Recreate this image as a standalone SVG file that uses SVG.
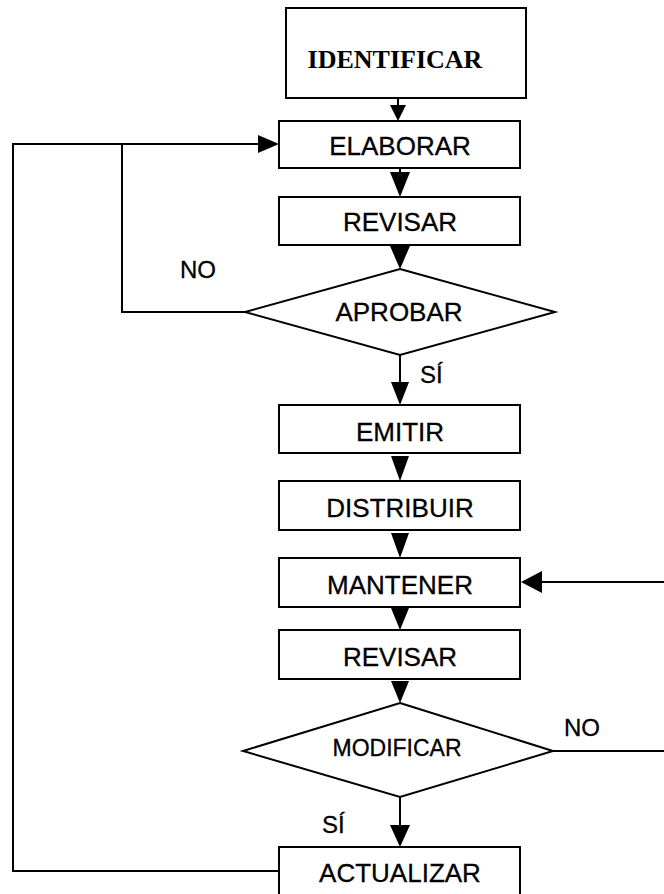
<svg xmlns="http://www.w3.org/2000/svg" width="664" height="894" viewBox="0 0 664 894">
<style>
.box{fill:#fff;stroke:#000;stroke-width:2}
.t{font-family:"Liberation Sans",Arial,sans-serif;font-size:26px;fill:#000;text-anchor:middle;stroke:#000;stroke-width:0.3}
.lbl{font-family:"Liberation Sans",Arial,sans-serif;font-size:24px;fill:#000;stroke:#000;stroke-width:0.3}
.ln{fill:none;stroke:#000;stroke-width:2}
.ah{fill:#000;stroke:none}
</style>
<rect width="664" height="894" fill="#fff"/>
<g id="connectors">
  <!-- IDENTIFICAR -> ELABORAR -->
  <line class="ln" x1="398" y1="88" x2="398" y2="106" stroke-width="1.5"/>
  <polygon class="ah" points="390,105 406,105 398,121"/>
  <!-- ELABORAR -> REVISAR -->
  <line class="ln" x1="400" y1="168" x2="400" y2="174"/>
  <polygon class="ah" points="390,172 410,172 400,197"/>
  <!-- REVISAR -> APROBAR -->
  <polygon class="ah" points="390,246 410,246 400,269"/>
  <!-- APROBAR SI -> EMITIR -->
  <line class="ln" x1="400" y1="355" x2="400" y2="384"/>
  <polygon class="ah" points="391,382 409,382 400,405"/>
  <!-- EMITIR -> DISTRIBUIR -->
  <polygon class="ah" points="391,456 409,456 400,481"/>
  <!-- DISTRIBUIR -> MANTENER -->
  <polygon class="ah" points="391,533 409,533 400,558"/>
  <!-- MANTENER -> REVISAR -->
  <polygon class="ah" points="391,608 409,608 400,630"/>
  <!-- REVISAR -> MODIFICAR -->
  <polygon class="ah" points="391,681 409,681 400,703"/>
  <!-- MODIFICAR SI -> ACTUALIZAR -->
  <line class="ln" x1="400" y1="797" x2="400" y2="826"/>
  <polygon class="ah" points="390,825 410,825 400,847"/>
  <!-- MODIFICAR NO -> MANTENER -->
  <line class="ln" x1="553" y1="751" x2="664" y2="751"/>
  <line class="ln" x1="664" y1="582" x2="540" y2="582"/>
  <polygon class="ah" points="542,571 542,593 521,582"/>
  <!-- APROBAR NO -> ELABORAR -->
  <polyline class="ln" points="245,312 122,312 122,144"/>
  <!-- ACTUALIZAR -> ELABORAR -->
  <polyline class="ln" points="279,871 13,871 13,144 260,144"/>
  <polygon class="ah" points="258,135 258,153 279,144"/>
</g>
<g id="identificar">
  <rect class="box" x="286" y="8" width="240" height="90"/>
  <text x="395" y="68" font-family="'Liberation Serif','Times New Roman',serif" font-weight="bold" font-size="26" text-anchor="middle">IDENTIFICAR</text>
</g>
<g id="elaborar">
  <rect class="box" x="279" y="121" width="241" height="47"/>
  <text class="t" x="400" y="155">ELABORAR</text>
</g>
<g id="revisar1">
  <rect class="box" x="279" y="197" width="241" height="48"/>
  <text class="t" x="400" y="231">REVISAR</text>
</g>
<g id="aprobar">
  <polygon class="box" points="400,269 555,312 400,355 245,312"/>
  <text class="t" x="399" y="321">APROBAR</text>
</g>
<g id="emitir">
  <rect class="box" x="279" y="405" width="241" height="48"/>
  <text class="t" x="400" y="441">EMITIR</text>
</g>
<g id="distribuir">
  <rect class="box" x="279" y="481" width="241" height="49"/>
  <text class="t" x="400" y="517">DISTRIBUIR</text>
</g>
<g id="mantener">
  <rect class="box" x="279" y="558" width="241" height="49"/>
  <text class="t" x="400" y="594">MANTENER</text>
</g>
<g id="revisar2">
  <rect class="box" x="279" y="630" width="241" height="49"/>
  <text class="t" x="400" y="666">REVISAR</text>
</g>
<g id="modificar">
  <polygon class="box" points="400,703 553,751 400,797 243,751"/>
  <text class="t" x="397" y="756" style="font-size:23px">MODIFICAR</text>
</g>
<g id="actualizar">
  <rect class="box" x="279" y="847" width="241" height="60"/>
  <text class="t" x="400" y="882">ACTUALIZAR</text>
</g>
<g id="labels">
  <text class="lbl" x="180" y="278">NO</text>
  <text class="lbl" x="420" y="383">SÍ</text>
  <text class="lbl" x="564" y="736">NO</text>
  <text class="lbl" x="322" y="833">SÍ</text>
</g>
</svg>
